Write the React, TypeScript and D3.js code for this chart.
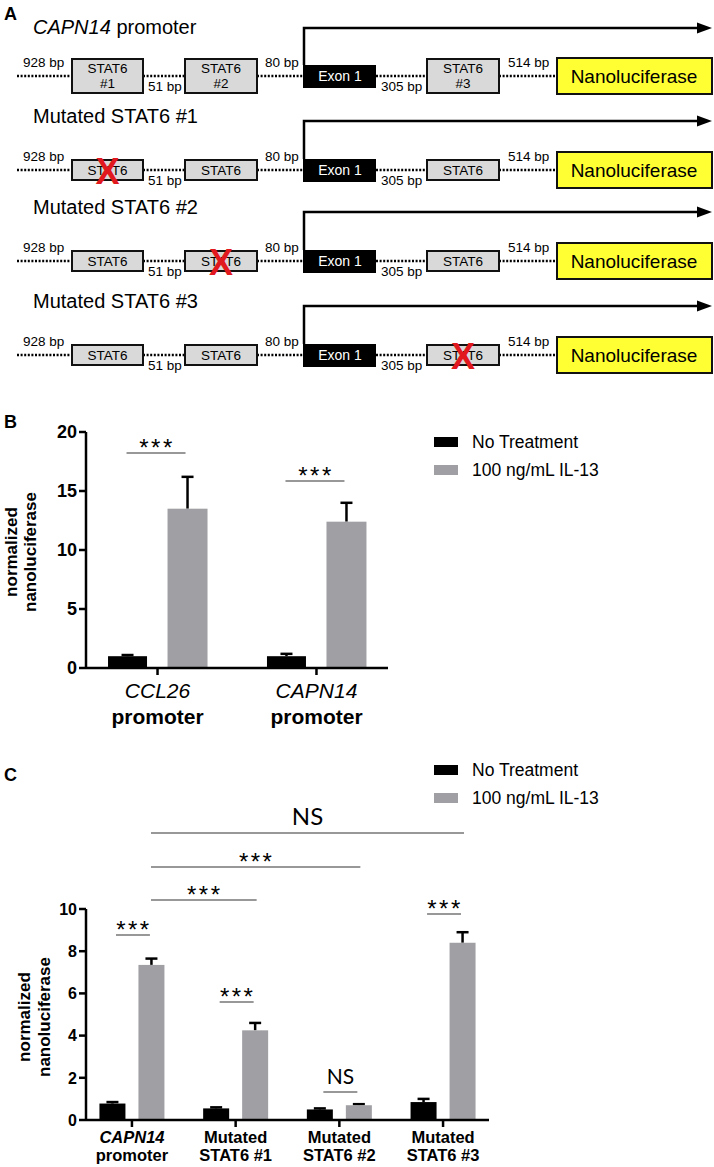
import React from "react";
import { scaleLinear, scalePoint } from "d3";

// ---- panel A: promoter constructs ----
const constructTitles = ["promoter", "Mutated STAT6 #1", "Mutated STAT6 #2", "Mutated STAT6 #3"];
const mutatedSite = [-1, 0, 1, 2];
const stat6Labels = ["#1", "#2", "#3"];
const spacerLabels = ["928 bp", "51 bp", "80 bp", "305 bp", "514 bp"];

// ---- panel B ----
const promoters = ["CCL26", "CAPN14"];
const bNoTreat = [1.0, 1.0];
const bNoTreatErr = [1.1, 1.2];
const bIL13 = [13.5, 12.4];
const bIL13Err = [16.2, 14.0];
const bTicks = [0, 5, 10, 15, 20];

// ---- panel C ----
const constructs = ["CAPN14 promoter", "Mutated STAT6 #1", "Mutated STAT6 #2", "Mutated STAT6 #3"];
const cNoTreat = [0.78, 0.55, 0.5, 0.85];
const cNoTreatErr = [0.85, 0.6, 0.55, 1.0];
const cIL13 = [7.35, 4.25, 0.7, 8.4];
const cIL13Err = [7.65, 4.6, 0.75, 8.9];
const cPairSig = ["***", "***", "NS", "***"];
const cTicks = [0, 2, 4, 6, 8, 10];

const legendItems = ["No Treatment", "100 ng/mL IL-13"];
const BLACK = "#000";
const GREY = "#a0a0a4";
const FONT = "'Liberation Sans', Arial, sans-serif";

function Construct({ row }: { row: number }) {
  const rowY = [76, 170, 261, 355][row];
  const arrowY = [28, 121, 212, 306][row];
  const titleY = [34, 123, 214, 308][row];
  const tall = row === 0;
  const bh = tall ? 17 : 10;
  const boxes = [
    [72, 143],
    [185, 257],
    [427, 499],
  ];
  const dots = [
    [17, 72],
    [143, 185],
    [257, 303],
    [376, 427],
    [499, 557],
  ];
  const labelPos = [
    [23, rowY - 9],
    [148, rowY + 15],
    [265, rowY - 9],
    [381, rowY + 15],
    [508, rowY - 9],
  ];
  return (
    <g fontFamily={FONT}>
      <text x={33} y={titleY} fontSize={20}>
        {row === 0 ? (
          <>
            <tspan fontStyle="italic">CAPN14</tspan> {constructTitles[0]}
          </>
        ) : (
          constructTitles[row]
        )}
      </text>
      {dots.map(([a, b], i) => (
        <line key={i} x1={a} x2={b} y1={rowY} y2={rowY} stroke="#000" strokeWidth={2.5} strokeDasharray="2,1.6" />
      ))}
      {labelPos.map(([x, y], i) => (
        <text key={i} x={x} y={y} fontSize={13.5}>
          {spacerLabels[i]}
        </text>
      ))}
      {boxes.map(([a, b], i) => (
        <g key={i}>
          <rect x={a} y={rowY - bh} width={b - a} height={bh * 2} fill="#d9d9d9" stroke="#111" strokeWidth={2} />
          {tall ? (
            <>
              <text x={(a + b) / 2} y={rowY - 3} fontSize={13.5} textAnchor="middle">STAT6</text>
              <text x={(a + b) / 2} y={rowY + 12} fontSize={13.5} textAnchor="middle">{stat6Labels[i]}</text>
            </>
          ) : (
            <text x={(a + b) / 2} y={rowY + 5} fontSize={13.5} textAnchor="middle">STAT6</text>
          )}
          {mutatedSite[row] === i && (
            <text x={(a + b) / 2} y={rowY + 14} fontSize={36} fontWeight="bold" fill="#e1191e" textAnchor="middle">
              X
            </text>
          )}
        </g>
      ))}
      <rect x={303} y={rowY - 11} width={73} height={23} fill="#000" />
      <text x={340} y={rowY + 5} fontSize={14} fill="#fff" textAnchor="middle">Exon 1</text>
      <path d={`M304,${rowY - 11}V${arrowY}H700`} fill="none" stroke="#000" strokeWidth={2.5} />
      <path d={`M697,${arrowY - 5.5}L712,${arrowY}L697,${arrowY + 5.5}Z`} fill="#000" />
      <rect x={557} y={rowY - 18} width={155} height={36} fill="#ffff33" stroke="#111" strokeWidth={2} />
      <text x={634} y={rowY + 7} fontSize={19} textAnchor="middle">Nanoluciferase</text>
    </g>
  );
}

function Legend({ x, y }: { x: number; y: number }) {
  return (
    <g fontFamily={FONT} fontSize={17.5}>
      {legendItems.map((d, i) => (
        <g key={d} transform={`translate(${x},${y + i * 28})`}>
          <rect x={0} y={-8} width={24} height={10} fill={i === 0 ? BLACK : GREY} />
          <text x={38} y={3}>{d}</text>
        </g>
      ))}
    </g>
  );
}

// label sits centred about 10px above its line
function Stars({ x, y, text, size = 24 }: { x: number; y: number; text: string; size?: number }) {
  if (text === "NS")
    return (
      <text x={x} y={y - 8} fontSize={size} textAnchor="middle" fontFamily="Lato, 'Open Sans', sans-serif">
        NS
      </text>
    );
  return (
    <text x={x + 1} y={y + 3} fontSize={size} textAnchor="middle" letterSpacing={2.5} fontFamily={FONT}>
      {text}
    </text>
  );
}

function SigLine({ x1, x2, y, label, size }: { x1: number; x2: number; y: number; label: string; size?: number }) {
  return (
    <g>
      <line x1={x1} x2={x2} y1={y} y2={y} stroke="#333" strokeWidth={1.2} />
      <Stars x={(x1 + x2) / 2} y={y} text={label} size={size} />
    </g>
  );
}

function Bar({ cx, w, y0, yv, ye, fill }: { cx: number; w: number; y0: number; yv: number; ye: number; fill: string }) {
  return (
    <g>
      <line x1={cx} x2={cx} y1={yv} y2={ye} stroke="#000" strokeWidth={2.5} />
      <line x1={cx - 6} x2={cx + 6} y1={ye} y2={ye} stroke="#000" strokeWidth={2.5} />
      <rect x={cx - w / 2} y={yv} width={w} height={y0 - yv} fill={fill} />
    </g>
  );
}

function YAxis({ scale, ticks, x, fontSize }: { scale: any; ticks: number[]; x: number; fontSize: number }) {
  const [r0, r1] = scale.range();
  return (
    <g fontFamily={FONT}>
      <line x1={x} x2={x} y1={r1} y2={r0 + 1} stroke="#000" strokeWidth={2.5} />
      {ticks.map((t) => (
        <g key={t}>
          <line x1={x - 7} x2={x} y1={scale(t)} y2={scale(t)} stroke="#000" strokeWidth={2.5} />
          <text x={x - 9} y={scale(t) + fontSize * 0.36} fontSize={fontSize} fontWeight="bold" textAnchor="end">
            {t}
          </text>
        </g>
      ))}
    </g>
  );
}

function PanelB() {
  const y = scaleLinear().domain([0, 20]).range([668, 432]);
  const x = scalePoint<string>().domain(promoters).range([86, 388]).padding(0.45);
  return (
    <g>
      <text x={4} y={428} fontSize={18} fontWeight="bold" fontFamily={FONT}>B</text>
      <g transform="translate(36,552) rotate(-90)" fontFamily={FONT} fontWeight="bold" fontSize={17} textAnchor="middle">
        <text x={0} y={-19}>normalized</text>
        <text x={0} y={0}>nanoluciferase</text>
      </g>
      {promoters.map((p, i) => {
        const cx = x(p)!;
        return (
          <g key={p}>
            <Bar cx={cx - 30} w={39} y0={y(0)} yv={y(bNoTreat[i])} ye={y(bNoTreatErr[i])} fill={BLACK} />
            <Bar cx={cx + 30} w={40} y0={y(0)} yv={y(bIL13[i])} ye={y(bIL13Err[i])} fill={GREY} />
            <SigLine x1={cx - 31} x2={cx + 28} y={[453, 481][i]} label="***" />
            <line x1={cx} x2={cx} y1={y(0)} y2={y(0) + 7} stroke="#000" strokeWidth={2.5} />
            <text x={cx} y={698} textAnchor="middle" fontSize={21} fontStyle="italic" fontFamily={FONT}>{p}</text>
            <text x={cx} y={724} textAnchor="middle" fontSize={21} fontWeight="bold" fontFamily={FONT}>promoter</text>
          </g>
        );
      })}
      <line x1={86} x2={388} y1={y(0)} y2={y(0)} stroke="#000" strokeWidth={2.5} />
      <YAxis scale={y} ticks={bTicks} x={86} fontSize={18} />
      <Legend x={434} y={445} />
    </g>
  );
}

function PanelC() {
  const y = scaleLinear().domain([0, 10]).range([1120, 909]);
  const x = scalePoint<string>().domain(constructs).range([86, 489]).padding(0.443);
  const pairY = [935, 1002, 1092, 914];
  const ref = x(constructs[0])! + 19;
  const cmp = [
    { to: 1, y: 900, label: "***" },
    { to: 2, y: 867, label: "***" },
    { to: 3, y: 833, label: "NS" },
  ];
  return (
    <g>
      <text x={4} y={781} fontSize={18} fontWeight="bold" fontFamily={FONT}>C</text>
      <g transform="translate(50,1017) rotate(-90)" fontFamily={FONT} fontWeight="bold" fontSize={17} textAnchor="middle">
        <text x={0} y={-20}>normalized</text>
        <text x={0} y={0}>nanoluciferase</text>
      </g>
      {cmp.map((c) => (
        <SigLine key={c.to} x1={ref} x2={x(constructs[c.to])! + 21} y={c.y} label={c.label} size={c.label === "NS" ? 24 : 24} />
      ))}
      {constructs.map((p, i) => {
        const cx = x(p)!;
        const [l1, l2] = i === 0 ? ["CAPN14", "promoter"] : ["Mutated", p.replace("Mutated ", "")];
        return (
          <g key={p}>
            <Bar cx={cx - 19.5} w={26} y0={y(0)} yv={y(cNoTreat[i])} ye={y(cNoTreatErr[i])} fill={BLACK} />
            <Bar cx={cx + 19.5} w={26} y0={y(0)} yv={y(cIL13[i])} ye={y(cIL13Err[i])} fill={GREY} />
            <SigLine x1={cx - 16} x2={cx + 18} y={pairY[i]} label={cPairSig[i]} size={cPairSig[i] === "NS" ? 21 : 24} />
            <line x1={cx} x2={cx} y1={y(0)} y2={y(0) + 7} stroke="#000" strokeWidth={2.5} />
            <text x={cx} y={1143} textAnchor="middle" fontSize={16.5} fontWeight="bold" fontStyle={i === 0 ? "italic" : "normal"} fontFamily={FONT}>{l1}</text>
            <text x={cx} y={1161} textAnchor="middle" fontSize={16.5} fontWeight="bold" fontFamily={FONT}>{l2}</text>
          </g>
        );
      })}
      <line x1={86} x2={489} y1={y(0)} y2={y(0)} stroke="#000" strokeWidth={2.5} />
      <YAxis scale={y} ticks={cTicks} x={86} fontSize={16} />
      <Legend x={434} y={773} />
    </g>
  );
}

export default function App() {
  return (
    <svg width={714} height={1167} style={{ position: "absolute", left: 0, top: 0, background: "#fff" }}>
      <rect width={714} height={1167} fill="#fff" />
      <text x={4} y={20} fontSize={18} fontWeight="bold" fontFamily={FONT}>A</text>
      {constructTitles.map((_, i) => (
        <Construct key={i} row={i} />
      ))}
      <PanelB />
      <PanelC />
    </svg>
  );
}
